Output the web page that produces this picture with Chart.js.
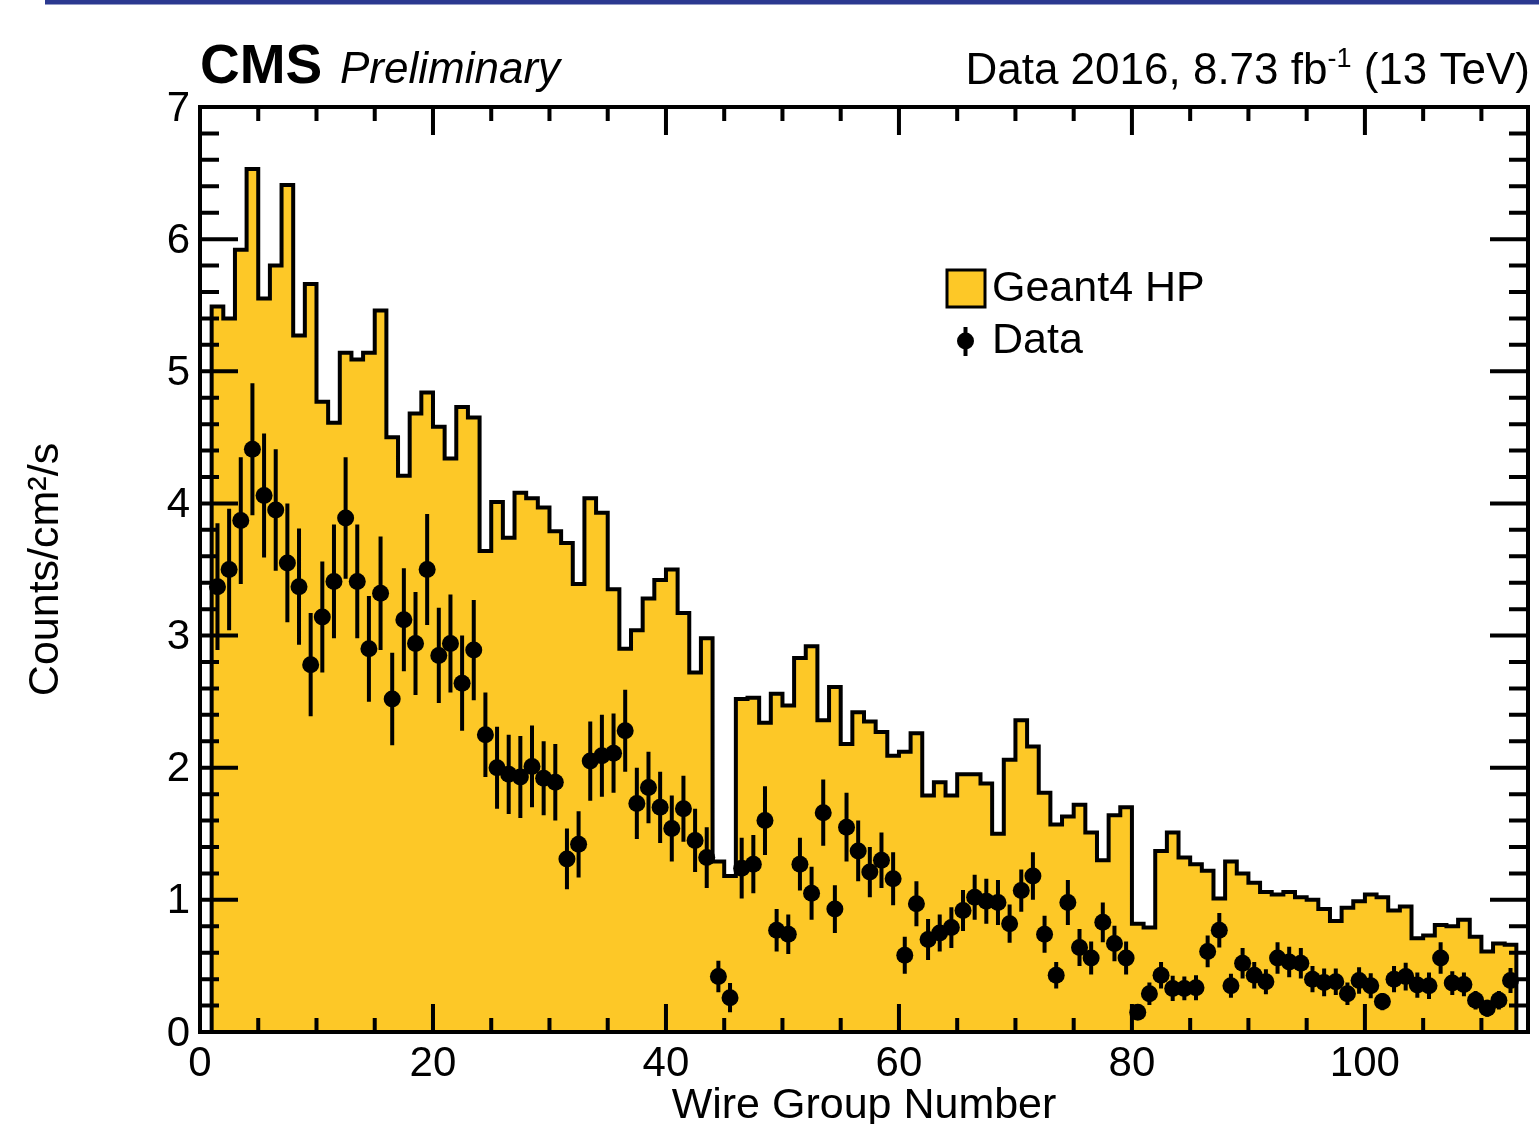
<!DOCTYPE html>
<html>
<head>
<meta charset="utf-8">
<title>Wire group rates</title>
<script src="https://cdn.jsdelivr.net/npm/chart.js@4.4.1/dist/chart.umd.min.js"></script>
<style>
  html, body { margin: 0; padding: 0; background: #fff; }
  #chart { display: block; }
</style>
</head>
<body>
<canvas id="chart" width="1539" height="1124"></canvas>
<script>
const FONT = '"Liberation Sans", Arial, Helvetica, sans-serif';
const YELLOW = '#fdc827';

// wire group of the first bin, bins are one wire group wide
const firstWire = 1;

// Geant4 HP prediction per wire group (counts/cm2/s)
const geantHP = [
  5.49, 5.40, 5.92, 6.53, 5.55, 5.80, 6.41, 5.27, 5.66, 4.77,
  4.61, 5.14, 5.09, 5.14, 5.46, 4.50, 4.21, 4.68, 4.84, 4.58,
  4.34, 4.73, 4.65, 3.64, 4.01, 3.74, 4.08, 4.04, 3.97, 3.79,
  3.70, 3.39, 4.04, 3.93, 3.35, 2.90, 3.04, 3.28, 3.42, 3.50,
  3.17, 2.72, 2.98, 1.29, 1.18, 2.52, 2.53, 2.34, 2.56, 2.47,
  2.83, 2.92, 2.36, 2.61, 2.18, 2.42, 2.35, 2.27, 2.09, 2.12,
  2.26, 1.79, 1.89, 1.79, 1.95, 1.95, 1.88, 1.50, 2.06, 2.36,
  2.16, 1.81, 1.57, 1.63, 1.72, 1.51, 1.30, 1.64, 1.70, 0.82,
  0.79, 1.37, 1.51, 1.32, 1.27, 1.22, 1.01, 1.29, 1.20, 1.13,
  1.06, 1.04, 1.06, 1.02, 1.00, 0.93, 0.84, 0.94, 0.99, 1.04,
  1.02, 0.92, 0.95, 0.71, 0.73, 0.81, 0.80, 0.85, 0.72, 0.61,
  0.67, 0.66
];

// measured rate per wire group
const dataRate = [
  3.37, 3.50, 3.87, 4.41, 4.06, 3.95, 3.55, 3.37, 2.78, 3.14,
  3.41, 3.89, 3.41, 2.90, 3.32, 2.52, 3.12, 2.94, 3.50, 2.85,
  2.94, 2.64, 2.89, 2.25, 2.00, 1.95, 1.93, 2.01, 1.92, 1.89,
  1.31, 1.42, 2.05, 2.09, 2.11, 2.28, 1.73, 1.85, 1.70, 1.54,
  1.69, 1.45, 1.32, 0.42, 0.26, 1.24, 1.27, 1.60, 0.77, 0.74,
  1.27, 1.05, 1.66, 0.93, 1.55, 1.37, 1.21, 1.30, 1.16, 0.58,
  0.97, 0.70, 0.75, 0.79, 0.92, 1.02, 0.99, 0.98, 0.82, 1.07,
  1.18, 0.74, 0.43, 0.98, 0.64, 0.56, 0.83, 0.67, 0.56, 0.15,
  0.29, 0.43, 0.33, 0.33, 0.335, 0.61, 0.77, 0.35, 0.52, 0.43,
  0.38, 0.56, 0.53, 0.52, 0.40, 0.375, 0.38, 0.29, 0.39, 0.35,
  0.23, 0.40, 0.42, 0.355, 0.35, 0.56, 0.37, 0.36, 0.24, 0.18,
  0.24, 0.39
];

// half length of the error bars
const dataErr = [
  0.48, 0.46, 0.48, 0.50, 0.47, 0.46, 0.45, 0.44, 0.39, 0.42,
  0.43, 0.46, 0.43, 0.40, 0.43, 0.35, 0.39, 0.39, 0.42, 0.36,
  0.37, 0.36, 0.38, 0.32, 0.31, 0.30, 0.31, 0.31, 0.28, 0.29,
  0.23, 0.25, 0.30, 0.31, 0.30, 0.31, 0.27, 0.27, 0.27, 0.25,
  0.25, 0.24, 0.23, 0.12, 0.11, 0.23, 0.22, 0.26, 0.16, 0.15,
  0.20, 0.20, 0.25, 0.18, 0.26, 0.23, 0.19, 0.21, 0.20, 0.14,
  0.17, 0.155, 0.14, 0.155, 0.155, 0.17, 0.17, 0.17, 0.145, 0.16,
  0.18, 0.14, 0.10, 0.17, 0.14, 0.125, 0.15, 0.135, 0.125, 0.06,
  0.085, 0.10, 0.095, 0.09, 0.095, 0.12, 0.13, 0.09, 0.115, 0.10,
  0.095, 0.12, 0.115, 0.115, 0.10, 0.105, 0.10, 0.085, 0.10, 0.095,
  0.065, 0.10, 0.105, 0.095, 0.10, 0.12, 0.09, 0.09, 0.07, 0.065,
  0.07, 0.095
];

const xTickVals = [0, 20, 40, 60, 80, 100];
const yTickVals = [0, 1, 2, 3, 4, 5, 6, 7];

const wires = dataRate.map((_, i) => firstWire + i);

// histogram outline through the left bin edges, closed down to zero at both ends
const lastEdge = wires[wires.length - 1] + 1;
const histPts = [{ x: firstWire, y: 0 }]
  .concat(geantHP.map((v, i) => ({ x: wires[i], y: v })))
  .concat([{ x: lastEdge, y: geantHP[geantHP.length - 1] }, { x: lastEdge, y: 0 }]);

const dataPts = dataRate.map((v, i) => ({ x: wires[i] + 0.5, y: v }));

// box, ticks on all four sides pointing inwards
const frame = {
  id: 'frame',
  afterDatasetDraw(chart, args) {
    if (args.index !== 0) return;
    const { ctx, chartArea: a, scales: { x, y } } = chart;
    ctx.save();
    ctx.strokeStyle = '#000';
    ctx.lineWidth = 4;
    ctx.lineCap = 'butt';
    ctx.beginPath();
    for (let v = 0; v <= x.max; v += 5) {
      const px = x.getPixelForValue(v);
      const len = v % 20 === 0 ? 28 : 14;
      ctx.moveTo(px, a.bottom); ctx.lineTo(px, a.bottom - len);
      ctx.moveTo(px, a.top); ctx.lineTo(px, a.top + len);
    }
    for (let k = 0; k <= y.max * 5; k++) {
      const py = y.getPixelForValue(k / 5);
      const len = k % 5 === 0 ? 38 : 19;
      ctx.moveTo(a.left, py); ctx.lineTo(a.left + len, py);
      ctx.moveTo(a.right, py); ctx.lineTo(a.right - len, py);
    }
    ctx.stroke();
    ctx.strokeRect(a.left, a.top, a.right - a.left, a.bottom - a.top);
    ctx.restore();
  }
};

const errorBars = {
  id: 'errorBars',
  beforeDatasetDraw(chart, args) {
    if (args.index !== 1) return;
    const { ctx, scales: { x, y } } = chart;
    ctx.save();
    ctx.strokeStyle = '#000';
    ctx.lineWidth = 4;
    ctx.beginPath();
    dataRate.forEach((v, i) => {
      const px = x.getPixelForValue(wires[i] + 0.5);
      ctx.moveTo(px, y.getPixelForValue(v - dataErr[i]));
      ctx.lineTo(px, y.getPixelForValue(v + dataErr[i]));
    });
    ctx.stroke();
    ctx.restore();
  }
};

// CMS labels, luminosity text, legend and the blue strip at the top
const header = {
  id: 'header',
  afterDraw(chart) {
    const { ctx } = chart;
    const ds = chart.data.datasets;
    ctx.save();
    ctx.fillStyle = '#2b3990';
    ctx.fillRect(45, 0, 1494, 4.5);

    ctx.fillStyle = '#000';
    ctx.textBaseline = 'alphabetic';
    ctx.textAlign = 'left';
    ctx.font = 'bold 55px ' + FONT;
    ctx.fillText('CMS', 200, 83);
    ctx.font = 'italic 44px ' + FONT;
    ctx.fillText('Preliminary', 340, 83);

    const main = 'Data 2016, 8.73 fb', sup = '-1', tail = ' (13 TeV)';
    ctx.font = '44px ' + FONT;
    const wMain = ctx.measureText(main).width, wTail = ctx.measureText(tail).width;
    ctx.font = '27px ' + FONT;
    const wSup = ctx.measureText(sup).width;
    const x0 = 1530 - (wMain + wSup + wTail);
    ctx.font = '44px ' + FONT;
    ctx.fillText(main, x0, 84);
    ctx.font = '27px ' + FONT;
    ctx.fillText(sup, x0 + wMain, 67);
    ctx.font = '44px ' + FONT;
    ctx.fillText(tail, x0 + wMain + wSup, 84);

    // legend
    ctx.fillStyle = ds[0].backgroundColor;
    ctx.fillRect(947, 270, 38, 37);
    ctx.strokeStyle = ds[0].borderColor;
    ctx.lineWidth = 3;
    ctx.strokeRect(947, 270, 38, 37);
    ctx.strokeStyle = ds[1].pointBackgroundColor;
    ctx.lineWidth = 4;
    ctx.beginPath();
    ctx.moveTo(965.5, 327); ctx.lineTo(965.5, 356);
    ctx.stroke();
    ctx.fillStyle = ds[1].pointBackgroundColor;
    ctx.beginPath();
    ctx.arc(965.5, 341, 8.5, 0, Math.PI * 2);
    ctx.fill();
    ctx.fillStyle = '#000';
    ctx.font = '43px ' + FONT;
    ctx.fillText(ds[0].label, 992, 301);
    ctx.fillText(ds[1].label, 992, 353);
    ctx.restore();
  }
};

new Chart(document.getElementById('chart'), {
  type: 'line',
  data: {
    datasets: [
      {
        label: 'Geant4 HP',
        data: histPts,
        stepped: 'before',
        fill: 'origin',
        backgroundColor: YELLOW,
        borderColor: '#000',
        borderWidth: 4,
        borderJoinStyle: 'miter',
        pointRadius: 0,
        order: 2
      },
      {
        label: 'Data',
        data: dataPts,
        showLine: false,
        pointRadius: 8.5,
        pointBackgroundColor: '#000',
        pointBorderColor: '#000',
        pointBorderWidth: 0,
        order: 1
      }
    ]
  },
  options: {
    responsive: false,
    animation: false,
    devicePixelRatio: 1,
    layout: { padding: { left: 0, right: 11, top: 107, bottom: 0 } },
    plugins: { legend: { display: false }, tooltip: { enabled: false } },
    scales: {
      x: {
        type: 'linear', min: 0, max: 114,
        grid: { display: false, drawTicks: false },
        border: { display: false },
        afterBuildTicks: s => { s.ticks = xTickVals.map(v => ({ value: v })); },
        afterFit: s => { s.height = 92; },
        ticks: { font: { family: FONT, size: 42 }, color: '#000', padding: 7, maxRotation: 0, autoSkip: false },
        title: {
          display: true, text: 'Wire Group Number', color: '#000',
          font: { family: FONT, size: 43, lineHeight: 0.8 },
          padding: { top: 0, bottom: 1 }
        }
      },
      y: {
        min: 0, max: 7,
        grid: { display: false, drawTicks: false },
        border: { display: false },
        afterBuildTicks: s => { s.ticks = yTickVals.map(v => ({ value: v })); },
        afterFit: s => { s.width = 200; },
        ticks: { font: { family: FONT, size: 42 }, color: '#000', padding: 10, labelOffset: 2, autoSkip: false },
        title: {
          display: true, text: 'Counts/cm²/s', color: '#000',
          font: { family: FONT, size: 43, lineHeight: 0.8 },
          padding: { top: 29, bottom: 0 }
        }
      }
    }
  },
  plugins: [frame, errorBars, header]
});
</script>
</body>
</html>
